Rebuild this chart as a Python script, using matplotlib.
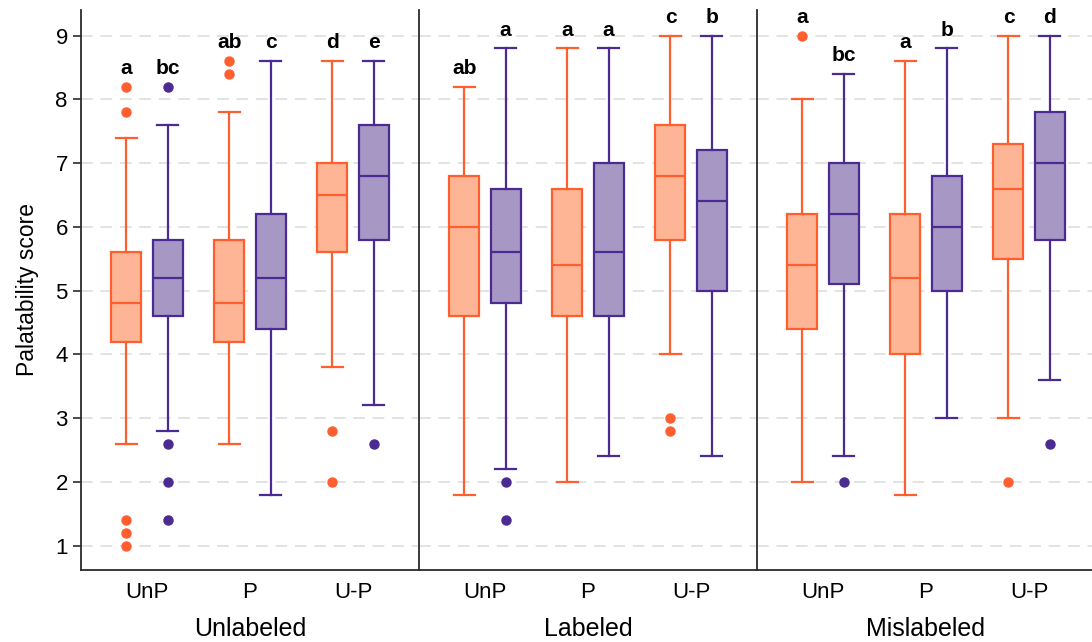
import matplotlib
matplotlib.use('Agg')
import matplotlib.pyplot as plt

plt.rcParams['font.family'] = ['Liberation Sans', 'DejaVu Sans']

panels = ['Unlabeled', 'Labeled', 'Mislabeled']
groups = ['UnP', 'P', 'U-P']

# each box: (whislo, q1, med, q3, whishi), order: UnP orange, UnP purple, P orange, P purple, U-P orange, U-P purple
unlabeled_boxes = [(2.6, 4.2, 4.8, 5.6, 7.4), (2.8, 4.6, 5.2, 5.8, 7.6),
                   (2.6, 4.2, 4.8, 5.8, 7.8), (1.8, 4.4, 5.2, 6.2, 8.6),
                   (3.8, 5.6, 6.5, 7.0, 8.6), (3.2, 5.8, 6.8, 7.6, 8.6)]
unlabeled_fliers = [[8.2, 7.8, 1.4, 1.2, 1.0], [8.2, 2.6, 2.0, 1.4],
                    [8.6, 8.4], [],
                    [2.8, 2.0], [2.6]]
unlabeled_letters = ['a', 'bc', 'ab', 'c', 'd', 'e']

labeled_boxes = [(1.8, 4.6, 6.0, 6.8, 8.2), (2.2, 4.8, 5.6, 6.6, 8.8),
                 (2.0, 4.6, 5.4, 6.6, 8.8), (2.4, 4.6, 5.6, 7.0, 8.8),
                 (4.0, 5.8, 6.8, 7.6, 9.0), (2.4, 5.0, 6.4, 7.2, 9.0)]
labeled_fliers = [[], [2.0, 1.4],
                  [], [],
                  [3.0, 2.8], []]
labeled_letters = ['ab', 'a', 'a', 'a', 'c', 'b']

mislabeled_boxes = [(2.0, 4.4, 5.4, 6.2, 8.0), (2.4, 5.1, 6.2, 7.0, 8.4),
                    (1.8, 4.0, 5.2, 6.2, 8.6), (3.0, 5.0, 6.0, 6.8, 8.8),
                    (3.0, 5.5, 6.6, 7.3, 9.0), (3.6, 5.8, 7.0, 7.8, 9.0)]
mislabeled_fliers = [[9.0], [2.0],
                     [], [],
                     [2.0], [2.6]]
mislabeled_letters = ['a', 'bc', 'a', 'b', 'c', 'd']

all_boxes = [unlabeled_boxes, labeled_boxes, mislabeled_boxes]
all_fliers = [unlabeled_fliers, labeled_fliers, mislabeled_fliers]
all_letters = [unlabeled_letters, labeled_letters, mislabeled_letters]

edge_colors = ['#FF5F2E', '#4B2A91']
fill_colors = ['#FDB595', '#A797C4']

fig = plt.figure(figsize=(10.92, 6.42), dpi=100)
W, H = 1092, 642
left = 81
pw = 338
top_px, bot_px = 10, 570

for p in range(3):
    ax = fig.add_axes([(left + p * pw) / W, 1 - bot_px / H, pw / W, (bot_px - top_px) / H])
    for k in range(6):
        g = k // 2
        s = k % 2
        lo, q1, med, q3, hi = all_boxes[p][k]
        pos = g + 1 + (-0.2 if s == 0 else 0.2)
        st = [dict(whislo=lo, q1=q1, med=med, q3=q3, whishi=hi, fliers=all_fliers[p][k])]
        ec = edge_colors[s]
        ax.bxp(st, positions=[pos], widths=0.29, capwidths=0.21, patch_artist=True,
               boxprops=dict(facecolor=fill_colors[s], edgecolor=ec, linewidth=1.6),
               medianprops=dict(color=ec, linewidth=1.6),
               whiskerprops=dict(color=ec, linewidth=1.6),
               capprops=dict(color=ec, linewidth=1.6),
               flierprops=dict(marker='o', markerfacecolor=ec, markeredgecolor=ec, markersize=6.5),
               manage_ticks=False)
        top_val = max([hi] + all_fliers[p][k])
        ax.text(pos, top_val + 0.2, all_letters[p][k], ha='center', va='baseline',
                fontsize=15, fontweight='bold')

    ax.set_xlim(0.36, 3.64)
    ax.set_ylim(0.62, 9.4)
    ax.set_yticks(range(1, 10))
    ax.yaxis.grid(True, linestyle=(0, (6, 4)), color='#E3E3E3', linewidth=1.4)
    ax.set_axisbelow(True)
    ax.set_xticks([1, 2, 3])
    ax.set_xticklabels(groups, fontsize=16)
    ax.tick_params(axis='x', length=0, pad=9)
    ax.set_xlabel(panels[p], fontsize=18, labelpad=10)
    ax.spines['top'].set_visible(False)
    ax.spines['right'].set_visible(False)
    for sp in ['left', 'bottom']:
        ax.spines[sp].set_color('#2b2b2b')
        ax.spines[sp].set_linewidth(1.3)
    if p == 0:
        ax.set_ylabel('Palatability score', fontsize=16.5, labelpad=12)
        ax.tick_params(axis='y', labelsize=16, length=6, width=1.2, color='#2b2b2b')
    else:
        ax.tick_params(axis='y', left=False, labelleft=False)

plt.savefig('out.png', dpi=100)
